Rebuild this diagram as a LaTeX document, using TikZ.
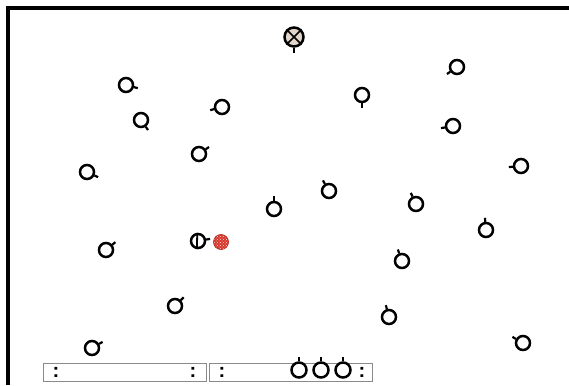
\documentclass[tikz,border=0pt]{standalone}
\usepackage{fontspec}
\setsansfont{Liberation Sans}
\usetikzlibrary{patterns}
\definecolor{lampFill}{HTML}{E2D6CA}
\definecolor{alarmRed}{HTML}{D8362A}
\definecolor{barGray}{HTML}{8A8A8A}

\begin{document}
\begin{tikzpicture}[
  x=1pt, y=1pt,
  seat/.style={circle, draw, line width=2.5pt, minimum size=14pt, inner sep=0pt},
  lamp/.style={seat, minimum size=19pt, fill=lampFill},
  stub/.style={line width=2.2pt},
  bar/.style={draw=barGray, line width=0.9pt, minimum width=163pt, minimum height=18pt,
              anchor=north west, inner sep=0pt},
  colon/.style={font=\sffamily\bfseries\fontsize{20}{20}\selectfont, inner sep=0pt}
]
\useasboundingbox (0,0) rectangle (569,-385);
% frame
\draw[line width=4pt] (7.5,-385) -- (7.5,-8.5) -- (569,-8.5);

% ceiling lamp
\node[lamp] (lamp) at (294,-37) {};
\draw[line width=1.6pt] (lamp.45) -- (lamp.225);
\draw[line width=1.6pt] (lamp.135) -- (lamp.-45);
\draw[stub] (lamp.south) -- ++(0,-5);

% seats
\node[seat] (s1) at (126,-85) {};
\node[seat] (s2) at (141,-120) {};
\node[seat] (s3) at (222,-107) {};
\node[seat] (s4) at (199,-154) {};
\node[seat] (s5) at (457,-67) {};
\node[seat] (s6) at (362,-95) {};
\node[seat] (s7) at (453,-126) {};
\node[seat] (s8) at (87,-172) {};
\node[seat] (s9) at (521,-166) {};
\node[seat] (s10) at (329,-191) {};
\node[seat] (s11) at (274,-209) {};
\node[seat] (s12) at (416,-204) {};
\node[seat] (s13) at (486,-230) {};
\node[seat] (s14) at (106,-250) {};
\node[seat] (s15) at (402,-261) {};
\node[seat] (s16) at (175,-306) {};
\node[seat] (s17) at (389,-317) {};
\node[seat] (s18) at (523,-343) {};
\node[seat] (s19) at (92,-348) {};

\draw[stub] (s1.-15) -- ++(-15:4);
\draw[stub] (s2.-55) -- ++(-55:4);
\draw[stub] (s3.195) -- ++(195:4);
\draw[stub] (s4.35) -- ++(35:4);
\draw[stub] (s5.215) -- ++(215:4);
\draw[stub] (s6.south) -- ++(0,-5);
\draw[stub] (s7.190) -- ++(190:4);
\draw[stub] (s8.-25) -- ++(-25:4);
\draw[stub] (s9.185) -- ++(185:4);
\draw[stub] (s10.120) -- ++(120:4);
\draw[stub] (s11.north) -- ++(0,5);
\draw[stub] (s12.115) -- ++(115:4);
\draw[stub] (s13.95) -- ++(95:4);
\draw[stub] (s14.40) -- ++(40:4);
\draw[stub] (s15.110) -- ++(110:4);
\draw[stub] (s16.45) -- ++(45:4);
\draw[stub] (s17.105) -- ++(105:4);
\draw[stub] (s18.150) -- ++(150:4);
\draw[stub] (s19.30) -- ++(30:4);

% meter and alarm
\node[seat] (meter) at (198,-241) {};
\draw[line width=1.8pt] (meter.95) -- (meter.-98);
\draw[stub] (meter.10) -- ++(10:4);
\node[circle, minimum size=15pt, inner sep=0pt, draw=alarmRed!85!black, line width=0.7pt,
      preaction={fill=alarmRed}, pattern=crosshatch dots, pattern color=white!85!alarmRed] (alarm) at (221,-242) {};

% bottom bars
\node[bar] (barL) at (43,-363) {};
\node[bar] (barR) at (209,-363) {};
\node[colon] (colL1) at (56,-372) {:};
\node[colon] (colL2) at (193,-372) {:};
\node[colon] (colR1) at (222,-372) {:};
\node[colon] (colR2) at (362,-372) {:};
\node[seat, minimum size=15pt] (b1) at (299,-370) {};
\node[seat, minimum size=15pt] (b2) at (321,-370) {};
\node[seat, minimum size=15pt] (b3) at (343,-370) {};
\draw[stub] (b1.north) -- ++(0,4);
\draw[stub] (b2.north) -- ++(0,4);
\draw[stub] (b3.north) -- ++(0,4);
\end{tikzpicture}
\end{document}
